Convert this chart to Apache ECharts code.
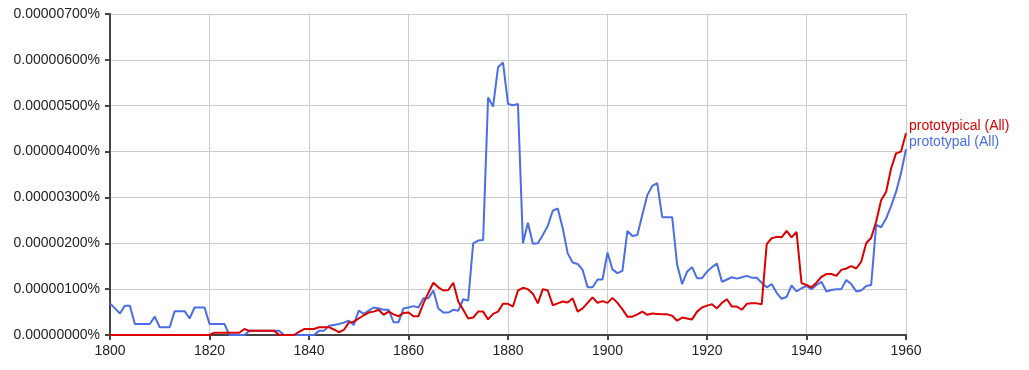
<!DOCTYPE html>
<html><head><meta charset="utf-8">
<script src="https://cdn.jsdelivr.net/npm/echarts@6/dist/echarts.min.js"></script>
<style>html,body{margin:0;padding:0;background:#fff}#c{width:1029px;height:370px}</style>
</head><body><div id="c"></div>
<script>
const startYear = 1800;
const xTicks = [1800,1820,1840,1860,1880,1900,1920,1940,1960];
const yTicks = [0,1,2,3,4,5,6,7]; // in units of 0.000001 %
const seriesNames = ['prototypal (All)', 'prototypical (All)'];
// prototypal, 1800..1960, units of 0.000001 %
const prototypal = [
0.69,0.58,0.47,0.64,0.64,0.24,0.24,0.24,0.24,0.40,
0.17,0.17,0.17,0.52,0.52,0.52,0.36,0.60,0.60,0.60,
0.24,0.24,0.24,0.24,0,0,0,0,0.09,0.09,
0.09,0.09,0.09,0.09,0.09,0,0,0,0,0,
0,0,0.09,0.09,0.20,0.22,0.24,0.27,0.31,0.22,
0.53,0.46,0.53,0.60,0.58,0.55,0.55,0.28,0.28,0.58,
0.60,0.63,0.60,0.80,0.80,0.97,0.58,0.49,0.49,0.55,
0.53,0.78,0.75,2.00,2.06,2.07,5.18,4.98,5.84,5.94,
5.04,5.01,5.04,2.00,2.45,1.99,2.00,2.18,2.38,2.71,
2.76,2.33,1.78,1.58,1.55,1.42,1.04,1.04,1.21,1.21,
1.80,1.43,1.35,1.40,2.27,2.16,2.18,2.62,3.05,3.25,
3.31,2.57,2.57,2.57,1.53,1.11,1.38,1.48,1.24,1.24,
1.38,1.48,1.56,1.16,1.21,1.26,1.23,1.26,1.29,1.25,
1.25,1.14,1.04,1.11,0.92,0.79,0.83,1.08,0.95,1.02,
1.07,1.00,1.09,1.16,0.95,0.98,1.00,1.00,1.20,1.11,
0.95,0.97,1.07,1.09,2.40,2.35,2.54,2.81,3.12,3.53,
4.05];
// prototypical, 1800..1960
const prototypical = [
0,0,0,0,0,0,0,0,0,0,
0,0,0,0,0,0,0,0,0,0,
0,0.05,0.05,0.05,0.05,0.05,0.05,0.13,0.09,0.09,
0.09,0.09,0.09,0.09,0,0,0,0,0.07,0.13,
0.13,0.13,0.17,0.17,0.17,0.12,0.06,0.11,0.27,0.29,
0.36,0.43,0.49,0.51,0.55,0.44,0.51,0.45,0.41,0.48,
0.49,0.41,0.41,0.69,0.92,1.14,1.04,0.97,0.98,1.14,
0.73,0.55,0.36,0.38,0.51,0.51,0.34,0.46,0.51,0.68,
0.68,0.62,0.97,1.03,1.00,0.90,0.69,1.00,0.97,0.65,
0.69,0.73,0.71,0.80,0.51,0.58,0.70,0.82,0.70,0.74,
0.70,0.81,0.70,0.56,0.40,0.40,0.45,0.51,0.44,0.47,
0.46,0.45,0.45,0.42,0.31,0.38,0.36,0.34,0.51,0.60,
0.64,0.67,0.58,0.70,0.78,0.62,0.62,0.55,0.68,0.69,
0.69,0.67,1.98,2.11,2.14,2.13,2.27,2.13,2.25,1.13,
1.09,1.04,1.14,1.27,1.33,1.33,1.29,1.42,1.45,1.50,
1.45,1.60,2.00,2.12,2.47,2.94,3.12,3.63,3.96,4.00,
4.40];

const toPairs = arr => arr.map((v, i) => [startYear + i, v]);
const font = 'Liberation Sans, Arial, sans-serif';
const chart = echarts.init(document.getElementById('c'));
chart.setOption({
  animation: false,
  backgroundColor: '#fff',
  grid: { left: 110, right: 123, top: 14, bottom: 35, containLabel: false },
  xAxis: {
    type: 'value', min: xTicks[0], max: xTicks[xTicks.length-1], interval: 20,
    axisLine: { lineStyle: { color: '#444', width: 2 } },
    axisTick: { show: true, length: 5, lineStyle: { color: '#444', width: 2 } },
    axisLabel: { color: '#222', fontSize: 14, fontFamily: font, margin: 9,
      formatter: v => String(v) },
    splitLine: { show: true, lineStyle: { color: '#ccc', width: 1 } }
  },
  yAxis: {
    type: 'value', min: yTicks[0], max: yTicks[yTicks.length-1], interval: 1,
    axisLine: { show: true, lineStyle: { color: '#444', width: 2 } },
    axisTick: { show: true, length: 5, lineStyle: { color: '#444', width: 2 } },
    axisLabel: { color: '#222', fontSize: 14, fontFamily: font, margin: 10,
      formatter: v => (v * 1e-6).toFixed(8) + '%' },
    splitLine: { show: true, lineStyle: { color: '#ccc', width: 1 } }
  },
  series: [
    { name: seriesNames[0], type: 'line', data: toPairs(prototypal), showSymbol: false,
      lineStyle: { color: '#4a6ee6', width: 2 }, itemStyle: { color: '#4a6ee6' },
      endLabel: { show: true, formatter: seriesNames[0], color: '#4a6ee6', fontSize: 14,
        fontFamily: font, offset: [-5, -7] } },
    { name: seriesNames[1], type: 'line', data: toPairs(prototypical), showSymbol: false,
      lineStyle: { color: '#dd0000', width: 2 }, itemStyle: { color: '#dd0000' },
      endLabel: { show: true, formatter: seriesNames[1], color: '#dd0000', fontSize: 14,
        fontFamily: font, offset: [-5, -7] } }
  ]
});
</script></body></html>
